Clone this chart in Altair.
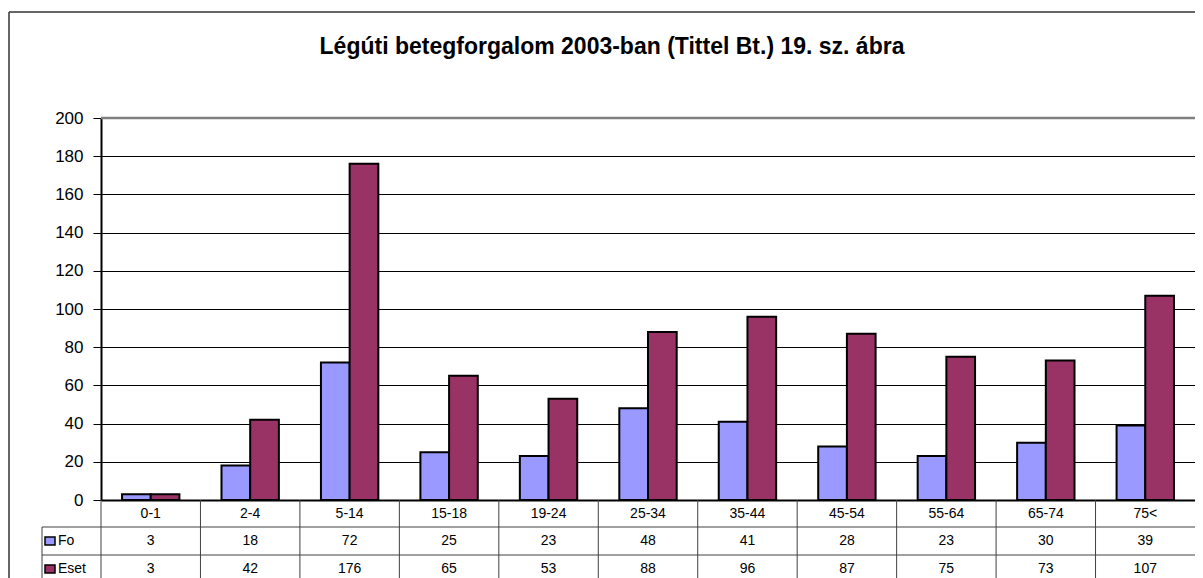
import altair as alt
import pandas as pd

categories = ["0-1", "2-4", "5-14", "15-18", "19-24", "25-34", "35-44", "45-54", "55-64", "65-74", "75<"]
fo_values = [3, 18, 72, 25, 23, 48, 41, 28, 23, 30, 39]
eset_values = [3, 42, 176, 65, 53, 88, 96, 87, 75, 73, 107]
series_names = ["Fo", "Eset"]
series_colors = ["#9999FF", "#993366"]
y_ticks = [0, 20, 40, 60, 80, 100, 120, 140, 160, 180, 200]
title_text = "Légúti betegforgalom 2003-ban (Tittel Bt.) 19. sz. ábra"

W = 1094
H = 382
PAD_L, PAD_T, PAD_B = 93, 110, 78
FONT = "Liberation Sans"
LINE = "#404040"
R1, R2 = 27, 55  # table row boundaries below the plot

rows = []
for c, f, e in zip(categories, fo_values, eset_values):
    rows.append({"cat": c, "series": series_names[0], "value": f})
    rows.append({"cat": c, "series": series_names[1], "value": e})
df = pd.DataFrame(rows)
cat_df = pd.DataFrame({"cat": categories})
one = alt.Data(values=[{"k": 0}])

xscale = alt.Scale(domain=categories, paddingInner=0, paddingOuter=0)
xaxis = alt.Axis(labels=False, ticks=False, title=None, grid=False,
                 domainColor="black", domainWidth=2)
X = alt.X("cat:N", sort=categories, scale=xscale, axis=xaxis)
Xb = alt.X("cat:N", sort=categories, scale=xscale, axis=xaxis, bandPosition=0)

Y = alt.Y("value:Q", scale=alt.Scale(domain=[0, 200], nice=False),
          axis=alt.Axis(values=y_ticks, tickCount=11, grid=True, gridColor="black", gridWidth=1,
                        domainColor="black", domainWidth=2, tickColor="black", tickWidth=1,
                        tickSize=8, labelFontSize=17, labelPadding=10, labelOverlap=False,
                        labelColor="black", labelFont=FONT, title=None))

bars = alt.Chart(df).mark_bar(stroke="black", strokeWidth=2).encode(
    x=X,
    xOffset=alt.XOffset("series:N", sort=series_names,
                        scale=alt.Scale(domain=series_names, paddingInner=0, paddingOuter=0.733)),
    y=Y,
    color=alt.Color("series:N", sort=series_names,
                    scale=alt.Scale(domain=series_names, range=series_colors), legend=None),
)

plot_top = alt.Chart(one).mark_rule(color="#808080", strokeWidth=2.5).encode(
    y=alt.value(0), x=alt.value(0), x2=alt.value(W + 20)
)

title = alt.Chart(alt.Data(values=[{"t": title_text}])).mark_text(
    fontSize=23, fontWeight="bold", font=FONT, color="black", align="center", baseline="middle"
).encode(x=alt.value(511), y=alt.value(-71), text="t:N")

cat_text = alt.Chart(cat_df).mark_text(fontSize=14, baseline="middle", font=FONT, color="black").encode(
    x=X, y=alt.value(H + 14), text="cat:N"
)
fo_text = alt.Chart(df).transform_filter(alt.datum.series == series_names[0]).mark_text(
    fontSize=14, baseline="middle", font=FONT, color="black").encode(
    x=X, y=alt.value(H + R1 + 14), text="value:Q"
)
eset_text = alt.Chart(df).transform_filter(alt.datum.series == series_names[1]).mark_text(
    fontSize=14, baseline="middle", font=FONT, color="black").encode(
    x=X, y=alt.value(H + R2 + 14), text="value:Q"
)

vlines = alt.Chart(cat_df).mark_rule(color=LINE, strokeWidth=1).encode(
    x=Xb, y=alt.value(H), y2=alt.value(H + 120)
)
hline1 = alt.Chart(one).mark_rule(color=LINE, strokeWidth=1).encode(
    x=alt.value(-59), x2=alt.value(W + 20), y=alt.value(H + R1)
)
hline2 = alt.Chart(one).mark_rule(color=LINE, strokeWidth=1).encode(
    x=alt.value(-59), x2=alt.value(W + 20), y=alt.value(H + R2)
)
legend_vline = alt.Chart(one).mark_rule(color=LINE, strokeWidth=1).encode(
    x=alt.value(-59), y=alt.value(H + R1), y2=alt.value(H + 120)
)

key_fo = alt.Chart(one).mark_rect(fill=series_colors[0], stroke="black", strokeWidth=1.5).encode(
    x=alt.value(-56), x2=alt.value(-46), y=alt.value(H + R1 + 10), y2=alt.value(H + R1 + 18)
)
key_eset = alt.Chart(one).mark_rect(fill=series_colors[1], stroke="black", strokeWidth=1.5).encode(
    x=alt.value(-56), x2=alt.value(-46), y=alt.value(H + R2 + 10), y2=alt.value(H + R2 + 18)
)
lab_fo = alt.Chart(alt.Data(values=[{"s": series_names[0]}])).mark_text(
    fontSize=14, baseline="middle", align="left", font=FONT, color="black").encode(
    x=alt.value(-43), y=alt.value(H + R1 + 14), text="s:N"
)
lab_eset = alt.Chart(alt.Data(values=[{"s": series_names[1]}])).mark_text(
    fontSize=14, baseline="middle", align="left", font=FONT, color="black").encode(
    x=alt.value(-43), y=alt.value(H + R2 + 14), text="s:N"
)

outer_left = alt.Chart(one).mark_rule(color="#333333", strokeWidth=1.5).encode(
    x=alt.value(-92), y=alt.value(-106), y2=alt.value(H + 120)
)
outer_top = alt.Chart(one).mark_rule(color="#333333", strokeWidth=1.5).encode(
    x=alt.value(-92), x2=alt.value(W + 20), y=alt.value(-106)
)

chart = alt.layer(
    bars, plot_top, vlines, hline1, hline2, legend_vline,
    title, cat_text, fo_text, eset_text, key_fo, key_eset, lab_fo, lab_eset,
    outer_left, outer_top,
).properties(
    width=W, height=H,
    autosize=alt.AutoSizeParams(type="none"),
    padding={"left": PAD_L, "top": PAD_T, "right": 0, "bottom": PAD_B},
).configure_view(stroke=None).configure(font=FONT)

chart.save("out.html", embed_options={"renderer": "svg", "actions": False})
